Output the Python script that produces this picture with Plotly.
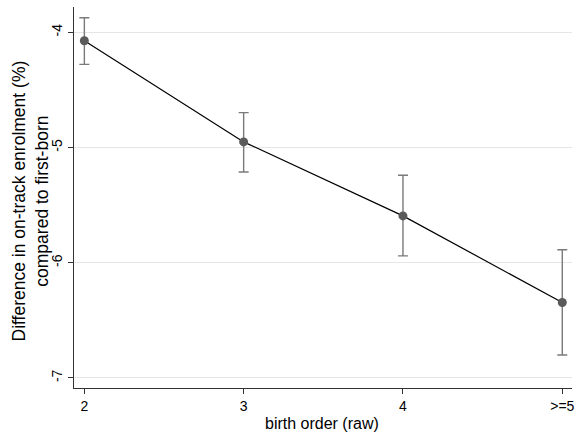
import plotly.graph_objects as go

categories = ["2", "3", "4", ">=5"]
estimates = [-4.073, -4.951, -5.593, -6.345]
ci_upper = [-3.873, -4.697, -5.240, -5.887]
ci_lower = [-4.278, -5.212, -5.940, -6.800]
y_ticks = [-7, -6, -5, -4]

err_plus = [u - e for u, e in zip(ci_upper, estimates)]
err_minus = [e - l for e, l in zip(estimates, ci_lower)]

fig = go.Figure()
fig.add_trace(go.Scatter(
    x=categories, y=estimates, mode="lines",
    line=dict(color="black", width=1.2), hoverinfo="skip", showlegend=False))
fig.add_trace(go.Scatter(
    x=categories, y=estimates, mode="markers",
    marker=dict(color="#5a5a5a", size=9),
    error_y=dict(type="data", symmetric=False, array=err_plus, arrayminus=err_minus,
                 color="#7a7a7a", thickness=1.4, width=5),
    showlegend=False))

font = "Liberation Sans, Arial, Helvetica, sans-serif"
fig.update_layout(
    width=577, height=437,
    margin=dict(l=74, r=5, t=7, b=49),
    paper_bgcolor="white", plot_bgcolor="white",
    font=dict(family=font, color="black", size=14),
    xaxis=dict(
        type="category", range=[-0.065, 3.061], automargin=False,
        showline=True, linecolor="#333", linewidth=1,
        ticks="outside", ticklen=5, tickcolor="#333",
        showgrid=False, zeroline=False,
        tickfont=dict(size=14)),
    yaxis=dict(
        range=[-7.087, -3.78], tickvals=y_ticks, ticktext=[str(v) for v in y_ticks],
        tickangle=-90, automargin=False,
        showline=True, linecolor="#333", linewidth=1,
        ticks="outside", ticklen=5, tickcolor="#333",
        showgrid=True, gridcolor="#e6e6e6", gridwidth=1, zeroline=False,
        tickfont=dict(size=14)),
    annotations=[
        dict(text="birth order (raw)", xref="paper", yref="paper",
             x=0.497, y=-0.093, xanchor="center", yanchor="middle",
             showarrow=False, font=dict(size=16)),
        dict(text="Difference in on-track enrolment (%)<br>compared to first-born",
             xref="paper", yref="paper", x=-0.088, y=0.49,
             xanchor="center", yanchor="middle", textangle=-90,
             showarrow=False, font=dict(size=17.5)),
    ],
)
fig.write_html("out.html", config={"displayModeBar": False},
               post_script="document.body.style.margin='0';document.body.style.overflow='hidden';")
